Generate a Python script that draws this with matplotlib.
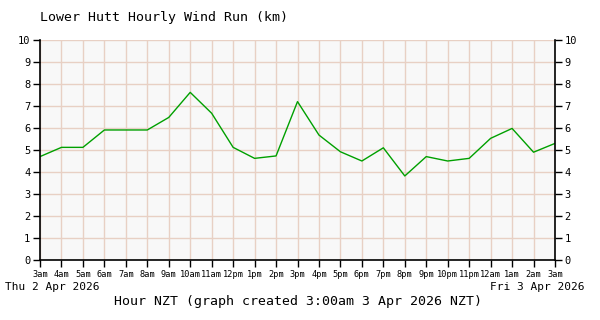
import matplotlib
matplotlib.use("Agg")
import matplotlib.pyplot as plt

hours = ["3am", "4am", "5am", "6am", "7am", "8am", "9am", "10am", "11am", "12pm", "1pm", "2pm",
         "3pm", "4pm", "5pm", "6pm", "7pm", "8pm", "9pm", "10pm", "11pm", "12am", "1am", "2am", "3am"]
wind_run = [4.70, 5.12, 5.12, 5.91, 5.91, 5.91, 6.48, 7.62, 6.67, 5.12, 4.62, 4.73,
            7.20, 5.68, 4.92, 4.50, 5.10, 3.82, 4.70, 4.50, 4.62, 5.53, 5.98, 4.90, 5.30]
y_ticks = list(range(0, 11))

plt.rcParams['font.family'] = ['DejaVu Sans Mono']

fig = plt.figure(figsize=(6, 3.2), dpi=100)
ax = fig.add_axes([40/600, 60/320, 515/600, 220/320])
ax.set_facecolor("#f8f8f8")

x = list(range(len(hours)))
ax.plot(x, wind_run, color="#00a000", linewidth=1.0)

ax.set_xlim(0, len(hours) - 1)
ax.set_ylim(0, 10)
ax.set_xticks(x)
ax.set_xticklabels(hours, fontsize=6.2)
ax.set_yticks(y_ticks)
ax.set_yticklabels([str(v) for v in y_ticks], fontsize=7.5)
ax.grid(True, color="#e8d0c4", linewidth=1.0)
ax.set_axisbelow(True)

ax.spines['top'].set_visible(False)
for s in ['left', 'right', 'bottom']:
    ax.spines[s].set_color("black")
    ax.spines[s].set_linewidth(1.2)

ax.tick_params(axis='both', direction='out', length=5, width=1, pad=2)
ax.tick_params(axis='y', right=True, labelright=True)

fig.text(40/600, 1 - 18/320, "Lower Hutt Hourly Wind Run (km)", fontsize=9.5,
         ha='left', va='center')
fig.text(5/600, 1 - 287/320, "Thu 2 Apr 2026", fontsize=8, ha='left', va='center')
fig.text(585/600, 1 - 287/320, "Fri 3 Apr 2026", fontsize=8, ha='right', va='center')
fig.text(298/600, 1 - 302/320, "Hour NZT (graph created 3:00am 3 Apr 2026 NZT)",
         fontsize=9.5, ha='center', va='center')

fig.savefig("out.png", dpi=100)
